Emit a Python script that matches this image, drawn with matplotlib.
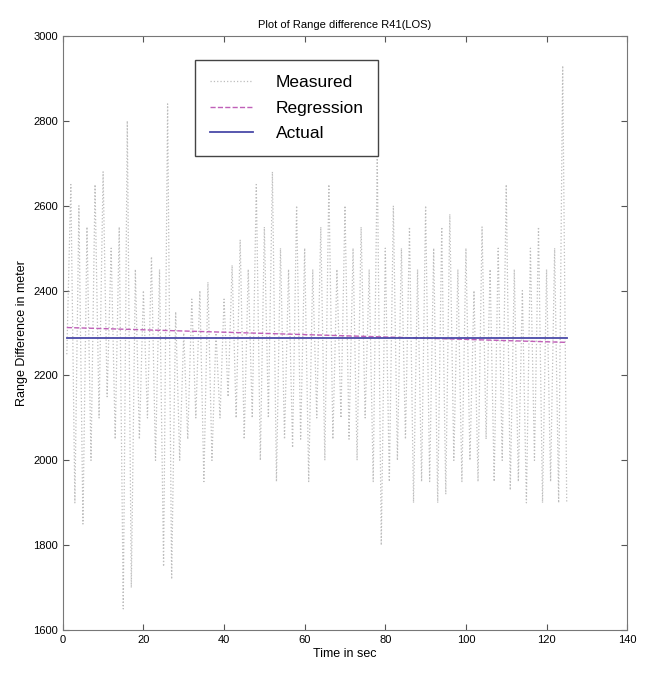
import numpy as np
import matplotlib.pyplot as plt

# time axis (sec)
t = np.arange(1, 126)

# measured range difference R41 (m)
measured = [2250, 2650, 1900, 2600, 1850, 2550, 2000, 2650, 2100, 2680,
            2150, 2500, 2050, 2550, 1650, 2800, 1700, 2450, 2050, 2400,
            2100, 2480, 2000, 2450, 1750, 2840, 1720, 2350, 2000, 2300,
            2050, 2380, 2100, 2400, 1950, 2420, 2000, 2300, 2100, 2380,
            2150, 2460, 2100, 2520, 2050, 2450, 2100, 2650, 2000, 2550,
            2100, 2680, 1950, 2500, 2050, 2450, 2030, 2600, 2050, 2500,
            1950, 2450, 2100, 2550, 2000, 2650, 2050, 2450, 2100, 2600,
            2050, 2500, 2000, 2550, 2100, 2450, 1950, 2720, 1800, 2500,
            1950, 2600, 2000, 2500, 2050, 2550, 1900, 2450, 1950, 2600,
            1950, 2500, 1900, 2550, 1920, 2580, 2000, 2450, 1950, 2500,
            2000, 2400, 1950, 2550, 2050, 2450, 1950, 2500, 2000, 2650,
            1930, 2450, 1950, 2400, 1900, 2500, 2000, 2550, 1900, 2450,
            1950, 2500, 1900, 2930, 1900]

reg_start = 2313
reg_end = 2278
actual_value = 2288

regression = np.linspace(reg_start, reg_end, len(t))
actual = np.full(len(t), actual_value)

plt.rcParams['font.family'] = ['Liberation Sans', 'DejaVu Sans']

fig = plt.figure(figsize=(6.54, 6.79), dpi=100)
ax = fig.add_axes([0.096, 0.072, 0.863, 0.875])

ax.plot(t, measured, color='#bdbdbd', linestyle=':', linewidth=0.9, label='Measured')
ax.plot(t, regression, color='#c060b8', linestyle='--', linewidth=1.0, label='Regression')
ax.plot(t, actual, color='#4a4aa8', linestyle='-', linewidth=1.3, label='Actual')

ax.set_xlim(0, 140)
ax.set_ylim(1600, 3000)
ax.set_xticks(np.arange(0, 141, 20))
ax.set_yticks(np.arange(1600, 3001, 200))
ax.tick_params(direction='in', top=True, right=True, labelsize=8, length=4, color='#555555')
for s in ax.spines.values():
    s.set_color('#777777')

ax.set_title('Plot of Range difference R41(LOS)', fontsize=8)
ax.set_xlabel('Time in sec', fontsize=9, labelpad=2)
ax.set_ylabel('Range Difference in meter', fontsize=9)

leg = ax.legend(loc='upper left', bbox_to_anchor=(0.234, 0.960), borderaxespad=0,
                fontsize=12.5, fancybox=False, framealpha=1, edgecolor='#444444',
                handlelength=2.5, handletextpad=1.3, labelspacing=0.62,
                borderpad=0.85)
leg.get_frame().set_linewidth(1.0)

plt.savefig('out.png', dpi=100)
